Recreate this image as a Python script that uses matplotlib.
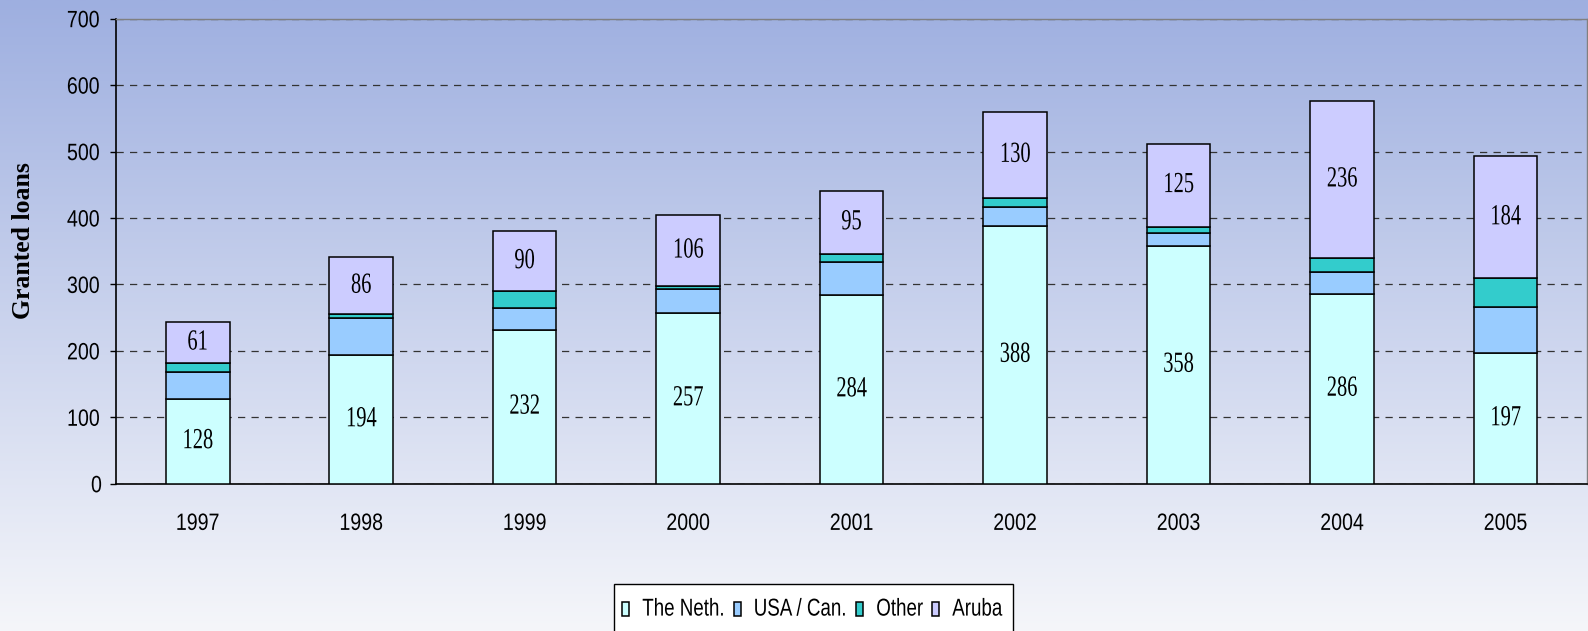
import numpy as np
import matplotlib
matplotlib.use('Agg')
import matplotlib.pyplot as plt
from matplotlib.colors import LinearSegmentedColormap
from matplotlib.patches import Rectangle
from matplotlib.patheffects import AbstractPathEffect
from matplotlib.transforms import Affine2D

# data
years = ['1997', '1998', '1999', '2000', '2001', '2002', '2003', '2004', '2005']
neth = [128, 194, 232, 257, 284, 388, 358, 286, 197]
usa_can = [40, 55, 33, 36, 50, 28, 19, 32, 69]
other = [14, 6, 25, 5, 12, 14, 10, 22, 43]
aruba = [61, 86, 90, 106, 95, 130, 125, 236, 184]

series_names = ['The Neth.', 'USA / Can.', 'Other', 'Aruba']
series_colors = ['#CCFFFF', '#99CCFF', '#33CCCC', '#CCCCFF']

W, H = 1588, 631


class Stretch(AbstractPathEffect):
    """Draw text scaled by (sx, sy) about its horizontal centre and baseline,
    to imitate the condensed fonts of the original chart."""
    def __init__(self, sx=1.0, sy=1.0):
        super().__init__()
        self.sx = sx
        self.sy = sy

    def draw_path(self, renderer, gc, tpath, affine, rgbFace=None):
        ext = tpath.get_extents()
        cx = (ext.x0 + ext.x1) / 2
        tr = Affine2D().translate(-cx, 0).scale(self.sx, self.sy).translate(cx, 0) + affine
        renderer.draw_path(gc, tpath, tr, rgbFace)


fig = plt.figure(figsize=(W / 100, H / 100), dpi=100)

# background gradient over the whole figure
bg = fig.add_axes([0, 0, 1, 1], zorder=-10)
grad = LinearSegmentedColormap.from_list('bg', ['#F5F6FA', '#9EAFE0'])
bg.imshow(np.linspace(0, 1, 256).reshape(-1, 1), cmap=grad, aspect='auto',
          origin='lower', extent=[0, 1, 0, 1])
bg.axis('off')

ax = fig.add_axes([0.073, 0.2334, 0.9265, 0.737])
ax.patch.set_alpha(0)

x = np.arange(len(years))
width = 0.39
bottom = np.zeros(len(years))
stacks = [neth, usa_can, other, aruba]
bars = []
for vals, name, col in zip(stacks, series_names, series_colors):
    b = ax.bar(x, vals, width, bottom=bottom, color=col, edgecolor='black',
               linewidth=1.1, label=name, zorder=3)
    bars.append(b)
    bottom = bottom + np.array(vals)

# value labels on The Neth. and Aruba segments
for rects, vals in ((bars[0], neth), (bars[3], aruba)):
    for r, v in zip(rects, vals):
        ax.text(r.get_x() + r.get_width() / 2, r.get_y() + r.get_height() / 2, str(v),
                ha='center', va='center', fontsize=21, family='Liberation Serif',
                path_effects=[Stretch(0.7)], zorder=4)

ax.set_xlim(-0.5, len(years) - 0.5)
ax.set_ylim(0, 700)
ax.set_yticks(range(0, 701, 100))
ax.set_xticks(x)
ax.set_xticklabels(years)
ax.tick_params(axis='x', length=0, pad=21)
ax.tick_params(axis='y', length=4.3, width=1, pad=5, direction='out')
for lab in ax.get_xticklabels() + ax.get_yticklabels():
    lab.set_family('Liberation Sans')
    lab.set_fontsize(17)
    lab.set_path_effects([Stretch(0.83)])

ax.yaxis.grid(True, color='#333333', linewidth=0.9, linestyle=(0, (5.8, 5)))
ax.set_axisbelow(True)

ax.spines['left'].set_linewidth(1.2)
ax.spines['bottom'].set_linewidth(1.2)
for s in ('top', 'right'):
    ax.spines[s].set_color('#808080')
    ax.spines[s].set_linewidth(1)

ax.set_ylabel('Granted loans', family='Liberation Serif', fontweight='bold',
              fontsize=18.5, va='center')
ax.yaxis.set_label_coords(-0.0625, 0.522)

# legend box runs off the bottom edge, so draw the frame separately
fig.add_artist(Rectangle((614 / W, -0.02), 399 / W, (H - 584) / H + 0.02,
                         transform=fig.transFigure, facecolor='white',
                         edgecolor='black', linewidth=1, zorder=-1))

# legend laid out at the narrow width, text stretched up to full height
leg = ax.legend(loc='upper left', bbox_to_anchor=(622 / W, 1 - 602 / H),
                bbox_transform=fig.transFigure, ncol=4, frameon=False,
                handlelength=0.38, handleheight=0.78, handletextpad=0.7,
                columnspacing=0.48, borderpad=0, borderaxespad=0,
                prop={'family': 'Liberation Sans', 'size': 13.5})
for t in leg.get_texts():
    t.set_path_effects([Stretch(1.0, 1.3)])

fig.savefig('out.png', dpi=100)
